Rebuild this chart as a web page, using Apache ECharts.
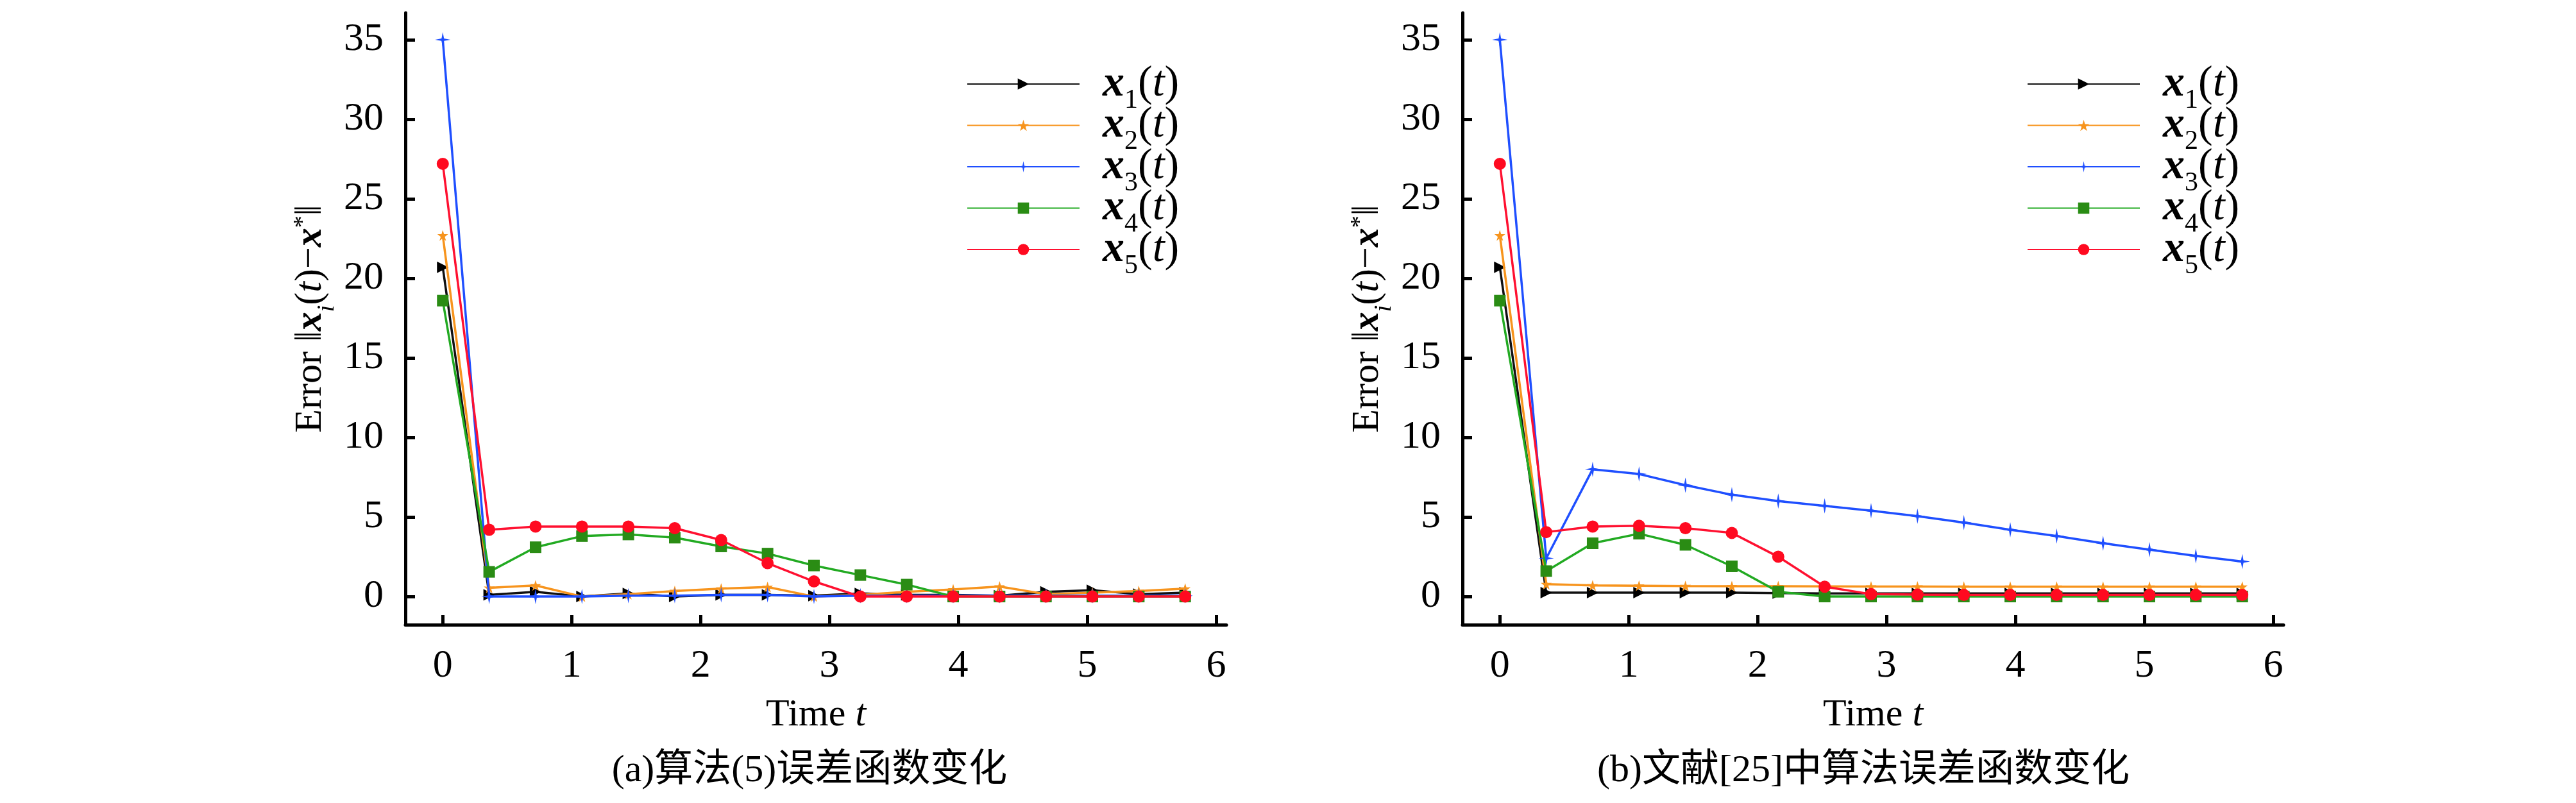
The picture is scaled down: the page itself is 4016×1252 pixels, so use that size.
<!DOCTYPE html>
<html>
<head>
<meta charset="utf-8">
<script src="https://cdn.jsdelivr.net/npm/echarts@6/dist/echarts.min.js"></script>
<style>
html,body{margin:0;padding:0;background:#fff;}
#main{width:4016px;height:1252px;}
</style>
</head>
<body>
<div id="main"></div>
<script>
// time samples
var times = [0, 0.36, 0.72, 1.08, 1.44, 1.8, 2.16, 2.52, 2.88, 3.24, 3.6, 3.96, 4.32, 4.68, 5.04, 5.4, 5.76];

// (a) 算法(5)
var aX1 = [20.7, 0.1, 0.3, 0.0, 0.2, 0.0, 0.1, 0.1, 0.05, 0.2, 0.1, 0.1, 0.05, 0.3, 0.4, 0.15, 0.25];
var aX2 = [22.7, 0.55, 0.7, 0.0, 0.15, 0.35, 0.5, 0.6, 0.0, 0.1, 0.3, 0.45, 0.63, 0.15, 0.25, 0.35, 0.5];
var aX3 = [35.0, 0.0, 0.0, 0.0, 0.05, 0.05, 0.1, 0.1, 0.0, 0.05, 0.05, 0.05, 0.05, 0.05, 0.05, 0.05, 0.05];
var aX4 = [18.6, 1.55, 3.1, 3.8, 3.9, 3.7, 3.15, 2.7, 1.95, 1.35, 0.75, 0.0, 0.0, 0.0, 0.0, 0.0, 0.0];
var aX5 = [27.2, 4.2, 4.4, 4.4, 4.4, 4.3, 3.55, 2.1, 0.95, 0.0, 0.0, 0.0, 0.0, 0.0, 0.0, 0.0, 0.0];

// (b) 文献[25]
var bX1 = [20.7, 0.25, 0.25, 0.25, 0.25, 0.25, 0.22, 0.2, 0.2, 0.2, 0.2, 0.2, 0.2, 0.2, 0.2, 0.2, 0.2];
var bX2 = [22.7, 0.78, 0.7, 0.68, 0.66, 0.65, 0.65, 0.64, 0.63, 0.63, 0.62, 0.62, 0.62, 0.62, 0.62, 0.62, 0.62];
var bX3 = [35.0, 2.4, 8.0, 7.7, 7.0, 6.4, 6.0, 5.7, 5.4, 5.05, 4.65, 4.2, 3.8, 3.35, 2.95, 2.55, 2.2];
var bX4 = [18.6, 1.6, 3.35, 3.95, 3.25, 1.9, 0.3, 0.0, 0.0, 0.0, 0.0, 0.0, 0.0, 0.0, 0.0, 0.0, 0.0];
var bX5 = [27.2, 4.05, 4.4, 4.45, 4.3, 4.0, 2.5, 0.62, 0.15, 0.12, 0.1, 0.1, 0.1, 0.1, 0.1, 0.1, 0.1];

var names = ['x1(t)', 'x2(t)', 'x3(t)', 'x4(t)', 'x5(t)'];
var xTicks = [0, 1, 2, 3, 4, 5, 6];
var yTicks = [0, 5, 10, 15, 20, 25, 30, 35];
var captions = ['(a)算法(5)误差函数变化', '(b)文献[25]中算法误差函数变化'];

var SERIF = '"Liberation Serif", "DejaVu Serif", serif';
var CAP_FONT = '"Liberation Serif", "Noto Sans CJK SC", serif';

var lineColors = ['#111111', '#f7941d', '#1f4fff', '#22aa22', '#ff1030'];
var markColors = ['#000000', '#f7941d', '#1f4fff', '#2a8c14', '#ff0a20'];
var symbols = [
	'triangle',
	'path://M50,0 L61,35 L98,35 L68,57 L79,91 L50,70 L21,91 L32,57 L2,35 L39,35 Z',
	'path://M50,0 L58,42 L100,50 L58,58 L50,100 L42,58 L0,50 L42,42 Z',
	'rect',
	'circle'
];
var symbolSizes = [18, 17, 24, 18, 19];
var symbolRotates = [-90, 0, 0, 0, 0];

function pairs(vals) {
	return times.map(function (t, i) { return [t, vals[i]]; });
}

// rich styles for math-like labels; subH sets how far the subscript drops
function richSet(size, sub, lh, subH) {
	return {
		b: {fontFamily: SERIF, fontSize: size, fontStyle: 'italic', fontWeight: 'bold', color: '#000', lineHeight: lh},
		n: {fontFamily: SERIF, fontSize: size, color: '#000', lineHeight: lh},
		i: {fontFamily: SERIF, fontSize: size, fontStyle: 'italic', color: '#000', lineHeight: lh},
		s: {fontFamily: SERIF, fontSize: sub, color: '#000', lineHeight: 4, height: subH, verticalAlign: 'bottom'},
		si: {fontFamily: SERIF, fontSize: sub, fontStyle: 'italic', color: '#000', lineHeight: 4, height: subH, verticalAlign: 'bottom'},
		sp: {fontFamily: SERIF, fontSize: sub, color: '#000', lineHeight: 14, verticalAlign: 'top'}
	};
}

var grids = [
	{left: 632, top: 20, width: 1280, height: 954},
	{left: 2280, top: 20, width: 1280, height: 954}
];

var xAxes = [], yAxes = [], series = [], legends = [];
[0, 1].forEach(function (g) {
	xAxes.push({
		type: 'value', gridIndex: g, min: -0.29, max: 6.08,
		name: '{n|Time }{i|t}', nameLocation: 'middle', nameGap: 111,
		nameTextStyle: {fontFamily: SERIF, fontSize: 60, color: '#000', rich: richSet(60, 38, 60, 8)},
		axisLine: {show: true, onZero: false, lineStyle: {color: '#000', width: 5}},
		axisTick: {show: true, inside: true, length: 15, customValues: xTicks, lineStyle: {color: '#000', width: 5}},
		axisLabel: {customValues: xTicks, margin: 34, fontFamily: SERIF, fontSize: 62, color: '#000'},
		splitLine: {show: false}
	});
	yAxes.push({
		type: 'value', gridIndex: g, min: -1.77, max: 36.69,
		name: '{n|Error ‖}{b|x}{si|i}{n|(}{i|t}{n|)−}{b|x}{sp|*}{n|‖}',
		nameLocation: 'middle', nameRotate: 90, nameGap: 118,
		nameTextStyle: {fontFamily: SERIF, fontSize: 60, color: '#000', rich: richSet(60, 38, 60, 8)},
		axisLine: {show: true, onZero: false, lineStyle: {color: '#000', width: 5}},
		axisTick: {show: true, inside: true, length: 15, customValues: yTicks, lineStyle: {color: '#000', width: 5}},
		axisLabel: {customValues: yTicks, margin: 34, fontFamily: SERIF, fontSize: 62, color: '#000'},
		splitLine: {show: false}
	});
	var sets = g === 0 ? [aX1, aX2, aX3, aX4, aX5] : [bX1, bX2, bX3, bX4, bX5];
	sets.forEach(function (vals, k) {
		series.push({
			name: names[k], type: 'line', xAxisIndex: g, yAxisIndex: g,
			data: pairs(vals),
			symbol: symbols[k], symbolSize: symbolSizes[k], symbolRotate: symbolRotates[k],
			showAllSymbol: true,
			lineStyle: {color: lineColors[k], width: 3.5},
			itemStyle: {color: markColors[k]},
			z: 2 + k
		});
	});
	legends.push({
		orient: 'vertical', left: g === 0 ? 1507 : 3160, top: 97,
		itemWidth: 175, itemHeight: 22, itemGap: -16, padding: 0,
		selectedMode: false, data: names,
		formatter: function (name) {
			return '{b|x}{s|' + name.charAt(1) + '}{n|(}{i|t}{n|)}';
		},
		textStyle: {padding: [0, 0, 0, 31], lineHeight: 52, rich: richSet(68, 42, 52, 1)}
	});
});

var chart = echarts.init(document.getElementById('main'));
chart.setOption({
	backgroundColor: '#fff',
	animation: false,
	grid: grids,
	xAxis: xAxes,
	yAxis: yAxes,
	legend: legends,
	series: series,
	graphic: [
		{type: 'text', x: 1262, y: 1202, style: {text: captions[0], font: '60px ' + CAP_FONT, fill: '#000', textAlign: 'center', textVerticalAlign: 'middle'}},
		{type: 'text', x: 2905, y: 1202, style: {text: captions[1], font: '60px ' + CAP_FONT, fill: '#000', textAlign: 'center', textVerticalAlign: 'middle'}}
	]
});
</script>
</body>
</html>
